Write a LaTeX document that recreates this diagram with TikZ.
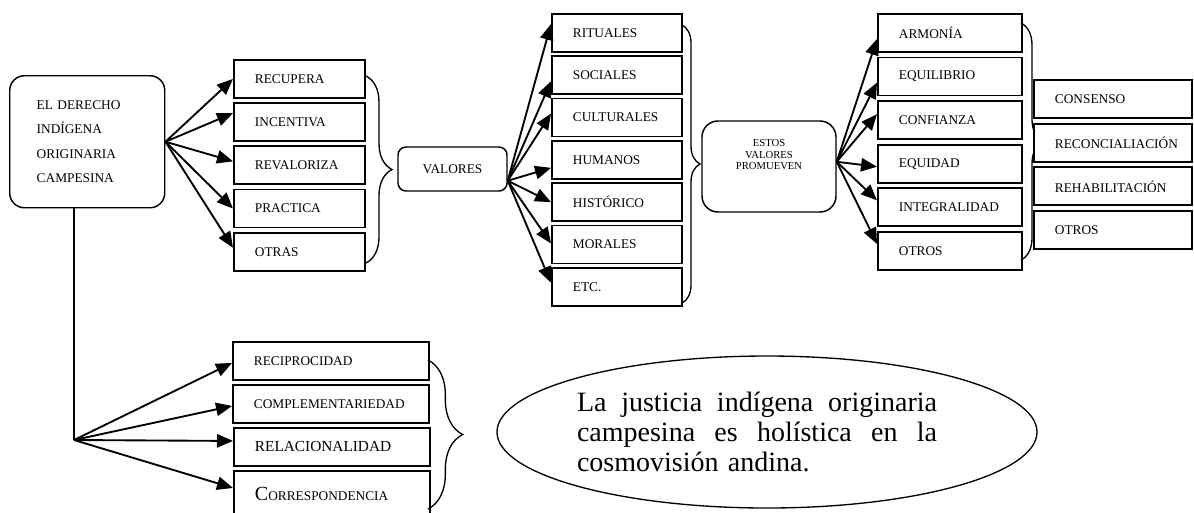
\documentclass[tikz,border=0pt]{standalone}
\usepackage{fontspec}
\setmainfont{Liberation Serif}
\usetikzlibrary{arrows.meta, decorations.pathreplacing, shapes.geometric}

\begin{document}
\begin{tikzpicture}[x=0.75pt, y=-0.75pt,
    box/.style={draw, line width=1.4pt, fill=white, anchor=north west, minimum height=28.5pt, inner xsep=0.75pt, inner ysep=0pt, align=left, font=\fontsize{10}{12}\selectfont, execute at begin node=\hspace*{15pt}},
    rbox/.style={draw, line width=1.1pt, rounded corners=#1},
    arr/.style={line width=1.4pt, -{Triangle[length=12pt, width=10pt]}},
    brc/.style={decorate, decoration={brace, amplitude=#1}, line width=1pt}]
        \useasboundingbox (0,0) rectangle (1194,512);

        \node[rbox=11pt, anchor=north west, text width=75.75pt, inner xsep=20.25pt, minimum height=99pt, align=left, font=\fontsize{10}{18.2}\selectfont] (main) at (9,75) {EL DERECHO\\INDÍGENA\\ORIGINARIA\\CAMPESINA\par\vspace*{6pt}};

        \foreach \t/\d [count=\i] in {RECUPERA/0, INCENTIVA/-9, REVALORIZA/-4, PRACTICA/0, OTRAS/-4}
        {
        \node[box, text width=96.75pt] (A\i) at (233, {59+43.2*(\i-1)}) {\t};
        \draw[arr] (main.east) -- ([shift={(0,\d)}]A\i.west);
        }
        \draw[brc=19.5pt] (366,76) -- (366,263);

        \node[rbox=6pt, minimum width=81.75pt, minimum height=33pt, font=\fontsize{10}{12}\selectfont] (val) at (452.5,169) {VALORES};
        \foreach \t/\d [count=\i] in {RITUALES/-9, SOCIALES/6, CULTURALES/-4, HUMANOS/8, HISTÓRICO/0, MORALES/-1, ETC./-4}
        {
        \node[box, text width=96pt] (B\i) at (551, {13+42.3*(\i-1)}) {\t};
        \draw[arr] (val.-12) -- ([shift={(0,\d)}]B\i.west);
        }
        \draw[brc=13.5pt] (682,25) -- (682,303);

        \node[rbox=12pt, minimum width=100.5pt, minimum height=68.25pt] (prom) at (769,166.5) {};
        \node[align=center, font=\fontsize{8}{8.6}\selectfont] (promtxt) at (769,155) {ESTOS\\VALORES\\PROMUEVEN};
        \foreach \t/\d [count=\i] in {ARMONÍA/6, EQUILIBRIO/6, CONFIANZA/-6, EQUIDAD/3, INTEGRALIDAD/-7, OTROS/-7}
        {
        \node[box, text width=106.5pt] (C\i) at (877, {13+43.6*(\i-1)}) {\t};
        \draw[arr] (prom.4) -- ([shift={(0,\d)}]C\i.west);
        }
        \draw[brc=16.5pt] (1021,23) -- (1021,260);

        \foreach \t [count=\i] in {CONSENSO, RECONCIALIACIÓN, REHABILITACIÓN, OTROS}
        {
        \node[box, text width=117pt] (D\i) at (1033, {79+43.7*(\i-1)}) {\t};
        }

        % rama de abajo
        \coordinate (J) at (74,440);
        \draw[line width=1.4pt] (main.south -| J) -- (J);
        \foreach \t/\d [count=\i] in {RECIPROCIDAD/2, COMPLEMENTARIEDAD/2}
        {
        \node[box, text width=145.5pt] (E\i) at (232, {341+43*(\i-1)}) {\t};
        \draw[arr] (J) -- ([shift={(0,\d)}]E\i.west);
        }
        \node[box, text width=145.5pt, font=\fontsize{11.5}{12}\selectfont] (E3) at (233,427) {RELACIONALIDAD};
        \node[box, text width=145.5pt, minimum height=34.5pt] (E4) at (233,470) {{\fontsize{15}{15}\selectfont C}ORRESPONDENCIA};
        \draw[arr] (J) -- ([shift={(0,-6)}]E3.west);
        \draw[arr] (J) -- ([shift={(0,-6)}]E4.west);
        \draw[brc=26pt] (428,360) -- (428,509);

        \node[draw, ellipse, line width=1pt, minimum width=405pt, minimum height=114pt, inner sep=0pt, text width=285pt, align=left, font=\fontsize{21}{22.5}\selectfont] (cosmo) at (767,432) {\makebox[270pt]{La\hfill justicia\hfill indígena\hfill originaria}\\\makebox[270pt]{campesina\hfill es\hfill holística\hfill en\hfill la}\\cosmovisión andina.};
\end{tikzpicture}
\end{document}
